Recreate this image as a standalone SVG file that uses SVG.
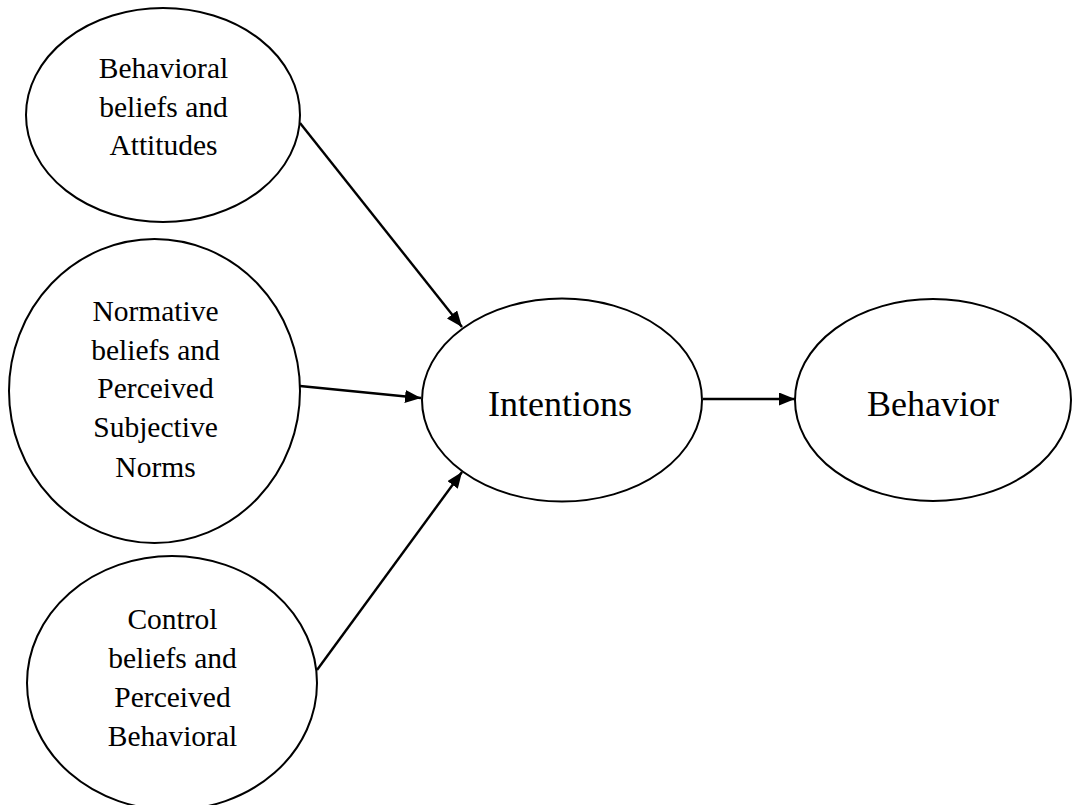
<svg xmlns="http://www.w3.org/2000/svg" width="1072" height="805" viewBox="0 0 1072 805">
<style>
.node{fill:#fff;stroke:#000;stroke-width:2}
.t{font-family:"Liberation Serif","Times New Roman",serif;font-size:29.5px;fill:#000;text-anchor:middle}
.big{font-size:36px}
.edge{stroke:#000;stroke-width:2.4;fill:none}
</style>
<defs>
<marker id="ah" viewBox="0 0 16 13" refX="16" refY="6.5" markerWidth="16" markerHeight="13" markerUnits="userSpaceOnUse" orient="auto">
<path d="M0,0 L16,6.5 L0,13 Z" fill="#000"/>
</marker>
</defs>
<rect width="1072" height="805" fill="#fff"/>
<g id="connectors">
<line class="edge" x1="300" y1="123" x2="462" y2="327" marker-end="url(#ah)"/>
<line class="edge" x1="300" y1="386" x2="421" y2="398" marker-end="url(#ah)"/>
<line class="edge" x1="317" y1="670" x2="462" y2="472" marker-end="url(#ah)"/>
<line class="edge" x1="703" y1="399" x2="795" y2="399" marker-end="url(#ah)"/>
</g>
<g id="node-attitudes">
<ellipse class="node" cx="163" cy="115" rx="137" ry="107"/>
<text class="t" x="163.5" y="78">Behavioral</text>
<text class="t" x="163.5" y="117">beliefs and</text>
<text class="t" x="163.5" y="155">Attitudes</text>
</g>
<g id="node-norms">
<ellipse class="node" cx="154.5" cy="391" rx="145.5" ry="152"/>
<text class="t" x="155.5" y="321">Normative</text>
<text class="t" x="155.5" y="360">beliefs and</text>
<text class="t" x="155.5" y="398">Perceived</text>
<text class="t" x="155.5" y="437">Subjective</text>
<text class="t" x="155.5" y="477">Norms</text>
</g>
<g id="node-control">
<ellipse class="node" cx="172" cy="683" rx="145" ry="127"/>
<text class="t" x="172.5" y="629">Control</text>
<text class="t" x="172.5" y="668">beliefs and</text>
<text class="t" x="172.5" y="707">Perceived</text>
<text class="t" x="172.5" y="746">Behavioral</text>
</g>
<g id="node-intentions">
<ellipse class="node" cx="562" cy="400" rx="140" ry="101.5"/>
<text class="t big" x="560" y="416">Intentions</text>
</g>
<g id="node-behavior">
<ellipse class="node" cx="933" cy="400" rx="138" ry="101"/>
<text class="t big" x="933" y="416">Behavior</text>
</g>
</svg>
